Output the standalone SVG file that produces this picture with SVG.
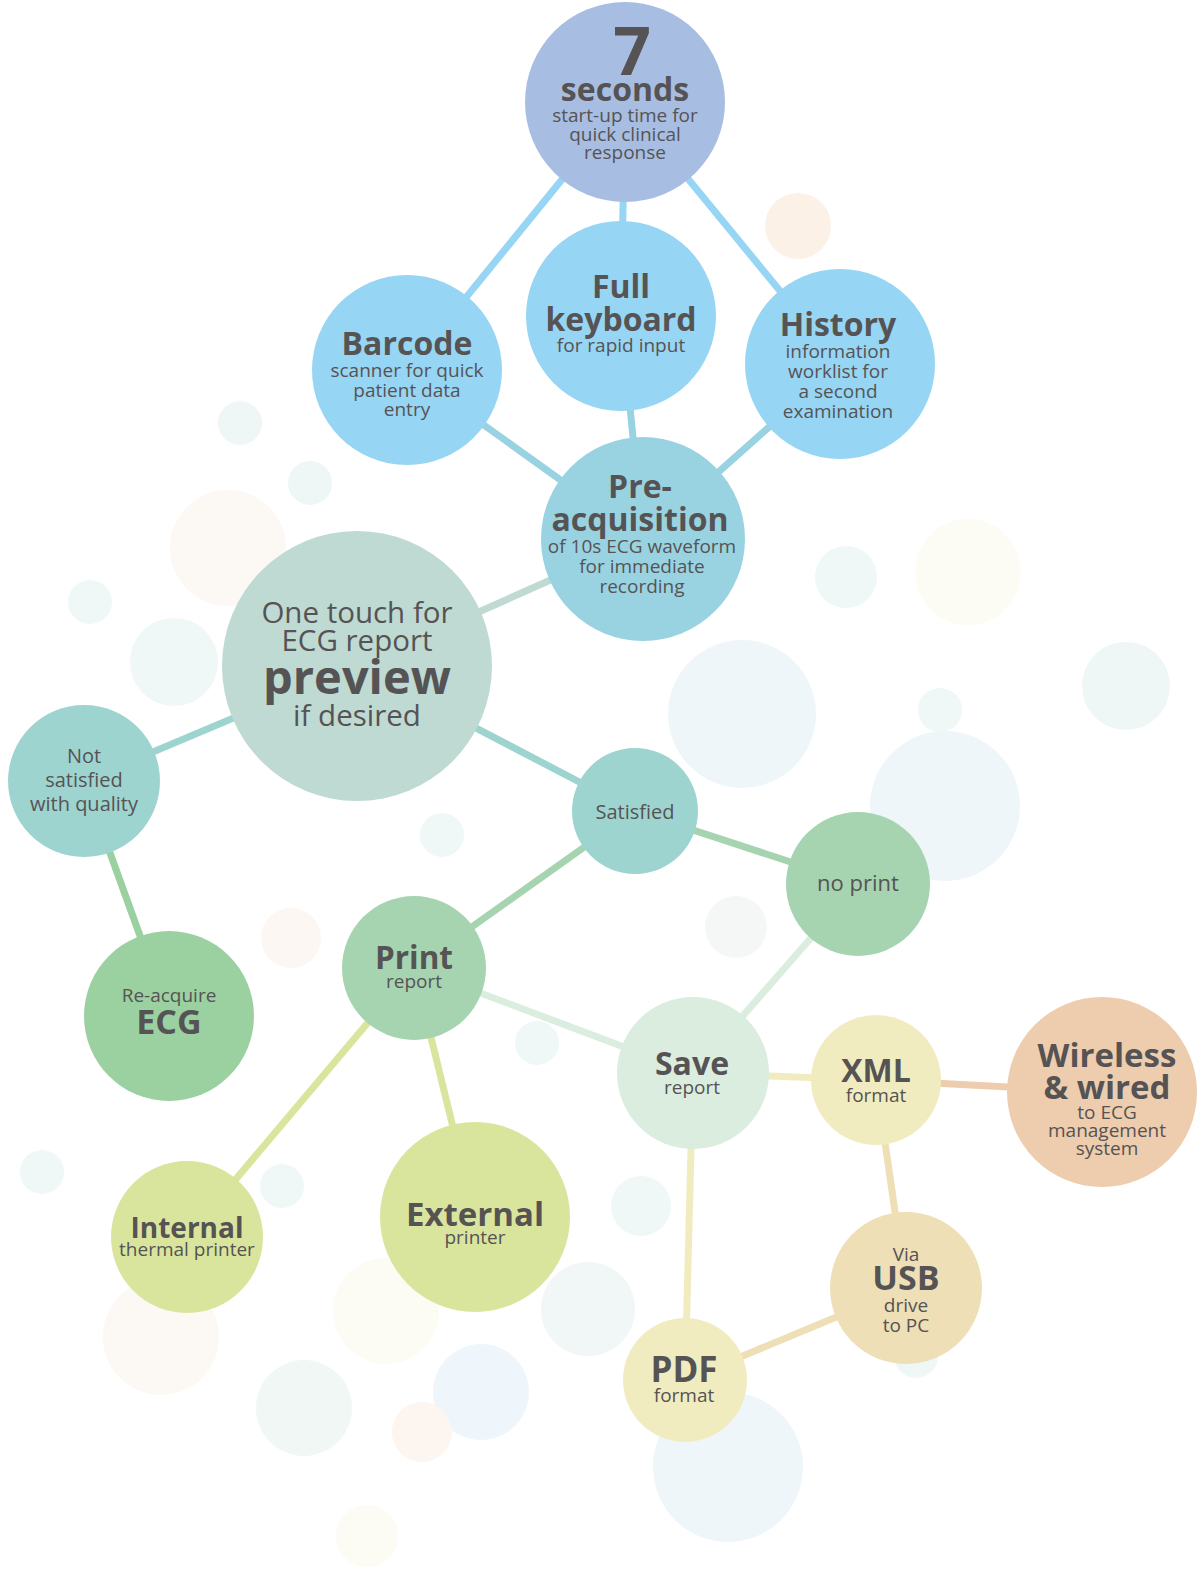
<svg xmlns="http://www.w3.org/2000/svg" width="1198" height="1573" viewBox="0 0 1198 1573">
<style>
text{font-family:"Open Sans","Noto Sans","Liberation Sans",sans-serif;fill:#565354;text-anchor:middle}
.b{font-weight:700}
.s{font-size:19px}
.h{font-size:32px;font-weight:700}
.e line{stroke-width:7;fill:none}
</style>
<rect width="1198" height="1573" fill="#ffffff"/>
<g id="background">
<circle cx="798" cy="226" r="33" fill="#fbf1e6"/>
<circle cx="240" cy="423" r="22" fill="#eef6f6"/>
<circle cx="310" cy="483" r="22" fill="#eef6f6"/>
<circle cx="228" cy="548" r="58" fill="#fcf8f3"/>
<circle cx="90" cy="602" r="22" fill="#f0f7f7"/>
<circle cx="174" cy="662" r="44" fill="#f0f7f7"/>
<circle cx="442" cy="835" r="22" fill="#f0f7f7"/>
<circle cx="846" cy="577" r="31" fill="#f0f7f7"/>
<circle cx="968" cy="572" r="53" fill="#fcfcf4"/>
<circle cx="742" cy="714" r="74" fill="#eef6fa"/>
<circle cx="1126" cy="686" r="44" fill="#eef6f6"/>
<circle cx="940" cy="710" r="22" fill="#f0f7f7"/>
<circle cx="945" cy="806" r="75" fill="#eef6fa"/>
<circle cx="736" cy="927" r="31" fill="#f5f7f6"/>
<circle cx="291" cy="938" r="30" fill="#fcf7f2"/>
<circle cx="537" cy="1043" r="22" fill="#f0f7f7"/>
<circle cx="42" cy="1172" r="22" fill="#f0f7f7"/>
<circle cx="282" cy="1186" r="22" fill="#f0f7f7"/>
<circle cx="641" cy="1206" r="30" fill="#f0f7f7"/>
<circle cx="588" cy="1309" r="47" fill="#f0f7f6"/>
<circle cx="161" cy="1337" r="58" fill="#fcf8f4"/>
<circle cx="386" cy="1311" r="53" fill="#fcfcf4"/>
<circle cx="304" cy="1408" r="48" fill="#f0f7f4"/>
<circle cx="481" cy="1392" r="48" fill="#eef6fc"/>
<circle cx="422" cy="1432" r="30" fill="#fcf5f0"/>
<circle cx="728" cy="1467" r="75" fill="#eef6fa"/>
<circle cx="367" cy="1536" r="31" fill="#fcfcf4"/>
<circle cx="916" cy="1356" r="22" fill="#f0f7f7"/>
</g>
<g id="connectors" class="e">
<line x1="625" y1="102" x2="407" y2="370" stroke="#96d5f3"/>
<line x1="625" y1="102" x2="621" y2="316" stroke="#96d5f3"/>
<line x1="625" y1="102" x2="840" y2="364" stroke="#96d5f3"/>
<line x1="407" y1="370" x2="643" y2="539" stroke="#99d3e2"/>
<line x1="621" y1="316" x2="643" y2="539" stroke="#99d3e2"/>
<line x1="840" y1="364" x2="643" y2="539" stroke="#99d3e2"/>
<line x1="643" y1="539" x2="357" y2="666" stroke="#bedad3"/>
<line x1="357" y1="666" x2="84" y2="781" stroke="#9dd4cf"/>
<line x1="357" y1="666" x2="635" y2="811" stroke="#9dd4cf"/>
<line x1="84" y1="781" x2="169" y2="1016" stroke="#9bd0a0"/>
<line x1="635" y1="811" x2="858" y2="884" stroke="#a6d4b0"/>
<line x1="635" y1="811" x2="414" y2="968" stroke="#a6d4b0"/>
<line x1="858" y1="884" x2="693" y2="1073" stroke="#daeddf"/>
<line x1="414" y1="968" x2="693" y2="1073" stroke="#daeddf"/>
<line x1="414" y1="968" x2="187" y2="1237" stroke="#d9e59d"/>
<line x1="414" y1="968" x2="475" y2="1217" stroke="#d9e59d"/>
<line x1="693" y1="1073" x2="876" y2="1080" stroke="#f1ecc0"/>
<line x1="693" y1="1073" x2="685" y2="1380" stroke="#f1ecc0"/>
<line x1="876" y1="1080" x2="1102" y2="1092" stroke="#edcdad"/>
<line x1="876" y1="1080" x2="906" y2="1288" stroke="#eedfb6"/>
<line x1="906" y1="1288" x2="685" y2="1380" stroke="#eedfb6"/>
</g>
<g id="n-seconds">
<circle cx="625" cy="102" r="100" fill="#a8bde2"/>
<text x="632" y="75" class="b" style="font-size:66px">7</text>
<text x="625" y="101" class="h">seconds</text>
<text x="625" y="122" class="s">start-up time for</text>
<text x="625" y="141" class="s">quick clinical</text>
<text x="625" y="159" class="s">response</text>
</g>
<g id="n-barcode">
<circle cx="407" cy="370" r="95" fill="#96d5f3"/>
<text x="407" y="355" class="h">Barcode</text>
<text x="407" y="377" class="s">scanner for quick</text>
<text x="407" y="397" class="s">patient data</text>
<text x="407" y="416" class="s">entry</text>
</g>
<g id="n-keyboard">
<circle cx="621" cy="316" r="95" fill="#96d5f3"/>
<text x="621" y="298" class="h">Full</text>
<text x="621" y="331" class="h">keyboard</text>
<text x="621" y="352" class="s">for rapid input</text>
</g>
<g id="n-history">
<circle cx="840" cy="364" r="95" fill="#96d5f3"/>
<text x="838" y="336" class="h">History</text>
<text x="838" y="358" class="s">information</text>
<text x="838" y="378" class="s">worklist for</text>
<text x="838" y="398" class="s">a second</text>
<text x="838" y="418" class="s">examination</text>
</g>
<g id="n-preacq">
<circle cx="643" cy="539" r="102" fill="#99d3e2"/>
<text x="640" y="498" class="h">Pre-</text>
<text x="640" y="531" class="h">acquisition</text>
<text x="642" y="553" class="s">of 10s ECG waveform</text>
<text x="642" y="573" class="s">for immediate</text>
<text x="642" y="593" class="s">recording</text>
</g>
<g id="n-preview">
<circle cx="357" cy="666" r="135" fill="#bedad3"/>
<text x="357" y="623" style="font-size:29.5px">One touch for</text>
<text x="357" y="651" style="font-size:29.5px">ECG report</text>
<text x="357" y="694" class="b" style="font-size:47px">preview</text>
<text x="357" y="726" style="font-size:29.5px">if desired</text>
</g>
<g id="n-notsat">
<circle cx="84" cy="781" r="76" fill="#9dd4cf"/>
<text x="84" y="763" style="font-size:20px">Not</text>
<text x="84" y="787" style="font-size:20px">satisfied</text>
<text x="84" y="811" style="font-size:20px">with quality</text>
</g>
<g id="n-satisfied">
<circle cx="635" cy="811" r="63" fill="#9dd4cf"/>
<text x="635" y="819" style="font-size:20px">Satisfied</text>
</g>
<g id="n-noprint">
<circle cx="858" cy="884" r="72" fill="#a6d4b0"/>
<text x="858" y="891" style="font-size:22px">no print</text>
</g>
<g id="n-reacquire">
<circle cx="169" cy="1016" r="85" fill="#9bd0a0"/>
<text x="169" y="1002" class="s">Re-acquire</text>
<text x="169" y="1034" class="b" style="font-size:34px">ECG</text>
</g>
<g id="n-print">
<circle cx="414" cy="968" r="72" fill="#a6d4b0"/>
<text x="414" y="969" class="h" style="font-size:31.5px">Print</text>
<text x="414" y="988" class="s">report</text>
</g>
<g id="n-save">
<circle cx="693" cy="1073" r="76" fill="#daeddf"/>
<text x="692" y="1075" class="h">Save</text>
<text x="692" y="1094" class="s">report</text>
</g>
<g id="n-xml">
<circle cx="876" cy="1080" r="65" fill="#f1ecc0"/>
<text x="876" y="1082" class="h">XML</text>
<text x="876" y="1102" class="s">format</text>
</g>
<g id="n-wireless">
<circle cx="1102" cy="1092" r="95" fill="#edcdad"/>
<text x="1107" y="1067" class="h" style="font-size:33px">Wireless</text>
<text x="1107" y="1099" class="h" style="font-size:33px">&amp; wired</text>
<text x="1107" y="1119" class="s">to ECG</text>
<text x="1107" y="1137" class="s">management</text>
<text x="1107" y="1155" class="s">system</text>
</g>
<g id="n-usb">
<circle cx="906" cy="1288" r="76" fill="#eedfb6"/>
<text x="906" y="1261" class="s">Via</text>
<text x="906" y="1290" class="h" style="font-size:34px">USB</text>
<text x="906" y="1312" class="s">drive</text>
<text x="906" y="1332" class="s">to PC</text>
</g>
<g id="n-pdf">
<circle cx="685" cy="1380" r="62" fill="#f1ecc0"/>
<text x="684" y="1382" class="h" style="font-size:35px">PDF</text>
<text x="684" y="1402" class="s">format</text>
</g>
<g id="n-internal">
<circle cx="187" cy="1237" r="76" fill="#d9e59d"/>
<text x="187" y="1238" class="h" style="font-size:28px">Internal</text>
<text x="187" y="1256" class="s">thermal printer</text>
</g>
<g id="n-external">
<circle cx="475" cy="1217" r="95" fill="#d9e59d"/>
<text x="475" y="1226" class="h" style="font-size:33px">External</text>
<text x="475" y="1244" class="s">printer</text>
</g>
</svg>
